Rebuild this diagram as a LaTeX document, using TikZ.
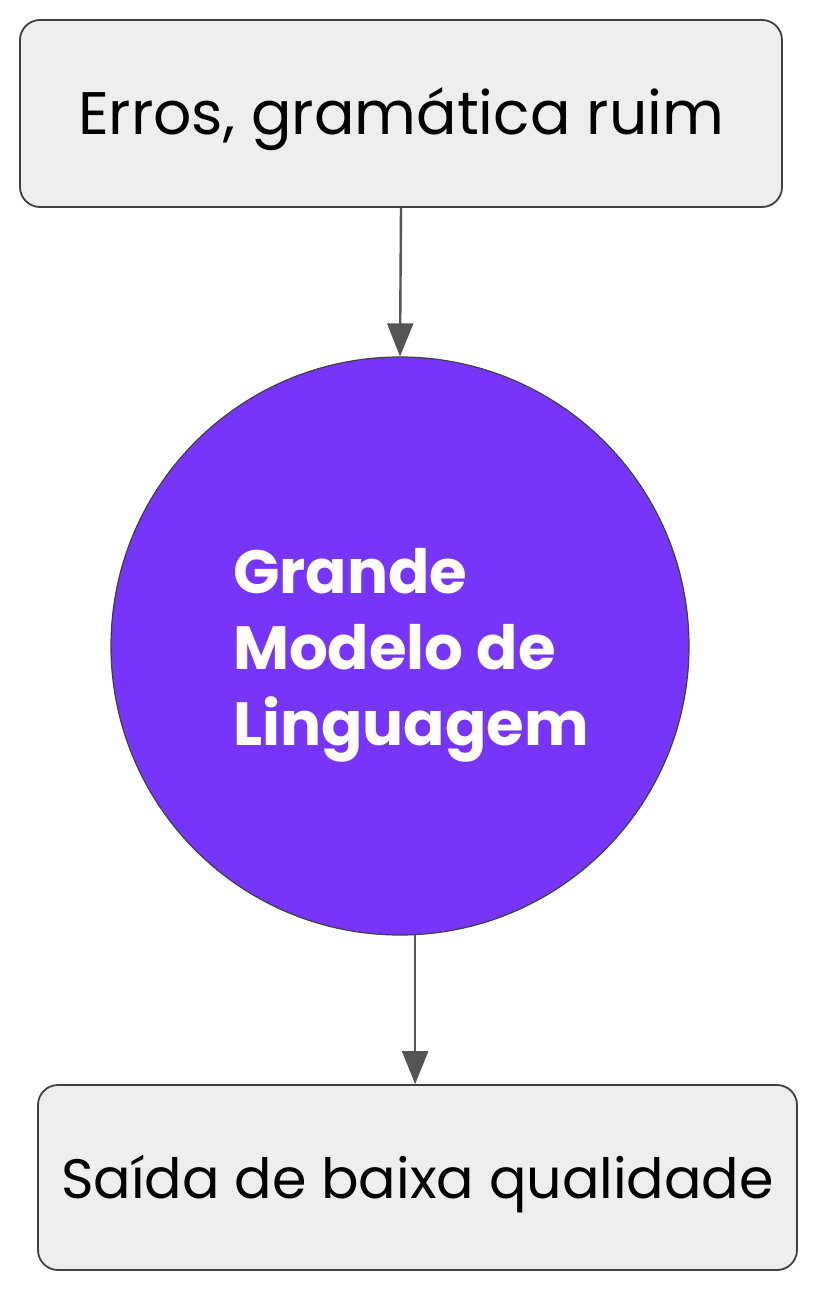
\documentclass[tikz,border=0pt]{standalone}
\usepackage{fontspec}
\setmainfont{Poppins}
\usepackage{tikz}
\usetikzlibrary{arrows.meta}
\usetikzlibrary{positioning}
\definecolor{boxgray}{HTML}{EEEEEE}
\definecolor{linegray}{HTML}{555555}
\definecolor{llmpurple}{HTML}{7635F9}
\tikzset{stepbox/.style={rectangle,rounded corners=20pt,fill=boxgray,draw=black!75,line width=1.8pt,inner sep=0pt,text height=41pt,text depth=0pt}}
\tikzset{llm/.style={circle,fill=llmpurple,draw=black!75,line width=1.2pt,minimum size=578pt,inner sep=0pt}}
\tikzset{llmtext/.style={text=white,align=left,inner sep=0pt,font=\fontsize{61}{76}\bfseries}}
\tikzset{flow/.style={draw=linegray,line width=2.4pt,-{Triangle[width=26pt,length=33pt]}}}

\begin{document}
\begin{tikzpicture}[x=1pt,y=-1pt]
\useasboundingbox (0,0) rectangle (816,1298);

 \node[stepbox,minimum width=762pt,minimum height=187pt,font=\fontsize{60}{70}\selectfont] (E) at (401,113.5) {Erros, gramática ruim};

 \node[llm] (L) at (400,646) {};
 \node[llmtext] (T) at ([xshift=11pt,yshift=-9pt]L.center) {Grande\\Modelo de\\Linguagem};

 \node[stepbox,minimum width=759pt,minimum height=185pt,font=\fontsize{55.5}{66}\selectfont] (S) at (417.5,1177.5) {Saída de baixa qualidade};

%arrows
 \draw[flow] (E.south) -- (L.north);
 \draw[flow] (L.-87) -- (L.-87 |- S.north);

\end{tikzpicture}
\end{document}
